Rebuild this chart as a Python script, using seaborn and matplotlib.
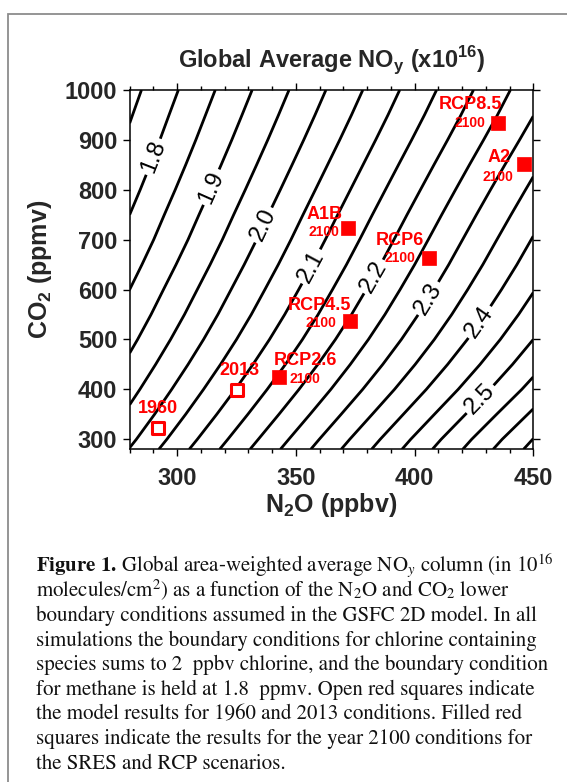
import numpy as np
import pandas as pd
import seaborn as sns
import matplotlib.pyplot as plt
from matplotlib.patches import Rectangle

n2o_edges = [280, 450]
co2_rows = [280, 300, 350, 400, 450, 500, 550, 600, 650, 700, 750, 800, 850, 900, 950, 1000]
noy_at_n2o_280 = [2.002, 1.989, 1.960, 1.934, 1.910, 1.888, 1.868, 1.850, 1.832, 1.815,
                  1.800, 1.785, 1.771, 1.758, 1.746, 1.734]
noy_at_n2o_450 = [2.666, 2.651, 2.609, 2.568, 2.532, 2.500, 2.472, 2.447, 2.424, 2.403,
                  2.382, 2.361, 2.340, 2.319, 2.299, 2.281]

# labelled contours and the unlabelled ones in between
labelled_levels = [1.8, 1.9, 2.0, 2.1, 2.2, 2.3, 2.4, 2.5]
plain_levels = [1.75, 1.85, 1.95, 2.05, 2.15, 2.25, 2.35, 2.45, 2.55, 2.60, 2.65]

# model runs (open squares)
past_names = ['1960', '2013']
past_n2o = [292, 325]
past_co2 = [323, 399]

# 2100 scenarios (filled squares)
scen_names = ['RCP2.6', 'RCP4.5', 'A1B', 'RCP6', 'RCP8.5', 'A2']
scen_n2o = [343, 373, 372, 406, 435, 446]
scen_co2 = [425, 537, 723, 663, 934, 852]
scen_year = '2100'

# --- styling / layout ---
sns.set_theme(style='ticks')
plt.rcParams['font.family'] = ['Liberation Sans', 'DejaVu Sans']
plt.rcParams['axes.linewidth'] = 1.1
RED = '#ff0000'

fig = plt.figure(figsize=(5.67, 7.82), dpi=100)
fig.patch.set_facecolor('white')
ax = fig.add_axes([0.2287, 0.4255, 0.7118, 0.4595])

# contour field
Z = np.column_stack([noy_at_n2o_280, noy_at_n2o_450])
ax.contour(n2o_edges, co2_rows, Z, levels=plain_levels, colors='black',
           linewidths=2.0, zorder=2)
cs = ax.contour(n2o_edges, co2_rows, Z, levels=labelled_levels, colors='black',
                linewidths=2.0, zorder=2)
label_spots = [(290, 866), (314, 806), (336, 730), (355, 650),
               (383.5, 624), (404.5, 586), (427, 536), (427.7, 380)]
ax.clabel(cs, fmt='%.1f', inline=True, inline_spacing=3,
          fontsize=17, manual=label_spots)

# markers
past = pd.DataFrame({'name': past_names, 'n2o': past_n2o, 'co2': past_co2})
scen = pd.DataFrame({'name': scen_names, 'n2o': scen_n2o, 'co2': scen_co2})
sns.scatterplot(data=past, x='n2o', y='co2', marker='s', s=72, facecolor='white',
                edgecolor=RED, linewidth=2.2, ax=ax, zorder=5, legend=False)
sns.scatterplot(data=scen, x='n2o', y='co2', marker='s', s=100, facecolor=RED,
                edgecolor=RED, linewidth=0.5, ax=ax, zorder=5, legend=False)

# text offsets (points) from each square: name label, year label
name_off = {'RCP2.6': (19, 11.5), 'RCP4.5': (-22.3, 11.5), 'A1B': (-17.3, 10.1),
            'RCP6': (-20.9, 13), 'RCP8.5': (-19.4, 13), 'A2': (-18, 4.3)}
year_off = {'RCP2.6': (18.7, -1.4), 'RCP4.5': (-20.9, -1.4), 'A1B': (-17.6, -2.9),
            'RCP6': (-20.9, 0), 'RCP8.5': (-20.2, 0), 'A2': (-18.4, -9.4)}
past_off = {'1960': (0, 13.7), '2013': (1.8, 13.7)}

for _, r in scen.iterrows():
    ax.annotate(r['name'], (r['n2o'], r['co2']), xytext=name_off[r['name']],
                textcoords='offset points', ha='center', va='center',
                color=RED, fontsize=13, fontweight='bold', zorder=6)
    ax.annotate(scen_year, (r['n2o'], r['co2']), xytext=year_off[r['name']],
                textcoords='offset points', ha='center', va='center',
                color=RED, fontsize=10, fontweight='bold', zorder=6)
for _, r in past.iterrows():
    ax.annotate(r['name'], (r['n2o'], r['co2']), xytext=past_off[r['name']],
                textcoords='offset points', ha='center', va='center',
                color=RED, fontsize=13, fontweight='bold', zorder=6)

# axes
ax.set_xlim(280, 450)
ax.set_ylim(280, 1000)
ax.set_xticks([300, 350, 400, 450])
ax.set_xticks(list(range(280, 451, 10)), minor=True)
ax.set_yticks(list(range(300, 1001, 100)))
ax.tick_params(which='both', direction='out', top=True, right=True,
               color='black', width=1.0)
ax.tick_params(which='major', length=5, labelsize=17)
ax.tick_params(which='minor', length=3)
ax.tick_params(axis='x', pad=8)
ax.tick_params(axis='y', pad=4)
for lab in ax.get_xticklabels() + ax.get_yticklabels():
    lab.set_fontweight('bold')
for sp in ax.spines.values():
    sp.set_color('black')
    sp.set_visible(True)

ax.set_xlabel(r'N$_\mathregular{2}$O (ppbv)', fontsize=18, fontweight='bold', labelpad=0.5)
ax.set_ylabel(r'CO$_\mathregular{2}$ (ppmv)', fontsize=18, fontweight='bold', labelpad=8)
ax.set_title(r'Global Average NO$_\mathregular{y}$ (x10$^\mathregular{16}$)',
             fontsize=17, fontweight='bold', pad=16)

# frame around the figure
fig.patches.append(Rectangle((8 / 567, -0.05), 1.0, 1 - 14 / 782 + 0.05,
                             transform=fig.transFigure, fill=False,
                             edgecolor='#8c8c8c', linewidth=1.3))

# caption
caption = [
    r'$\mathbf{Figure\ 1.}\,$Global area-weighted average NO$_y$ column (in 10$^{16}$',
    r'molecules/cm$^2$) as a function of the N$_2$O and CO$_2$ lower',
    'boundary conditions assumed in the GSFC 2D model. In all',
    'simulations the boundary conditions for chlorine containing',
    'species sums to 2  ppbv chlorine, and the boundary condition',
    'for methane is held at 1.8  ppmv. Open red squares indicate',
    'the model results for 1960 and 2013 conditions. Filled red',
    'squares indicate the results for the year 2100 conditions for',
    'the SRES and RCP scenarios.',
]
for i, line in enumerate(caption):
    yb = 572 + i * 24.6
    fig.text(36 / 567, 1 - yb / 782, line, ha='left', va='baseline',
             fontsize=15, family='STIXGeneral', math_fontfamily='stix',
             color='#111111')

fig.savefig('out.png', dpi=100, facecolor='white')
